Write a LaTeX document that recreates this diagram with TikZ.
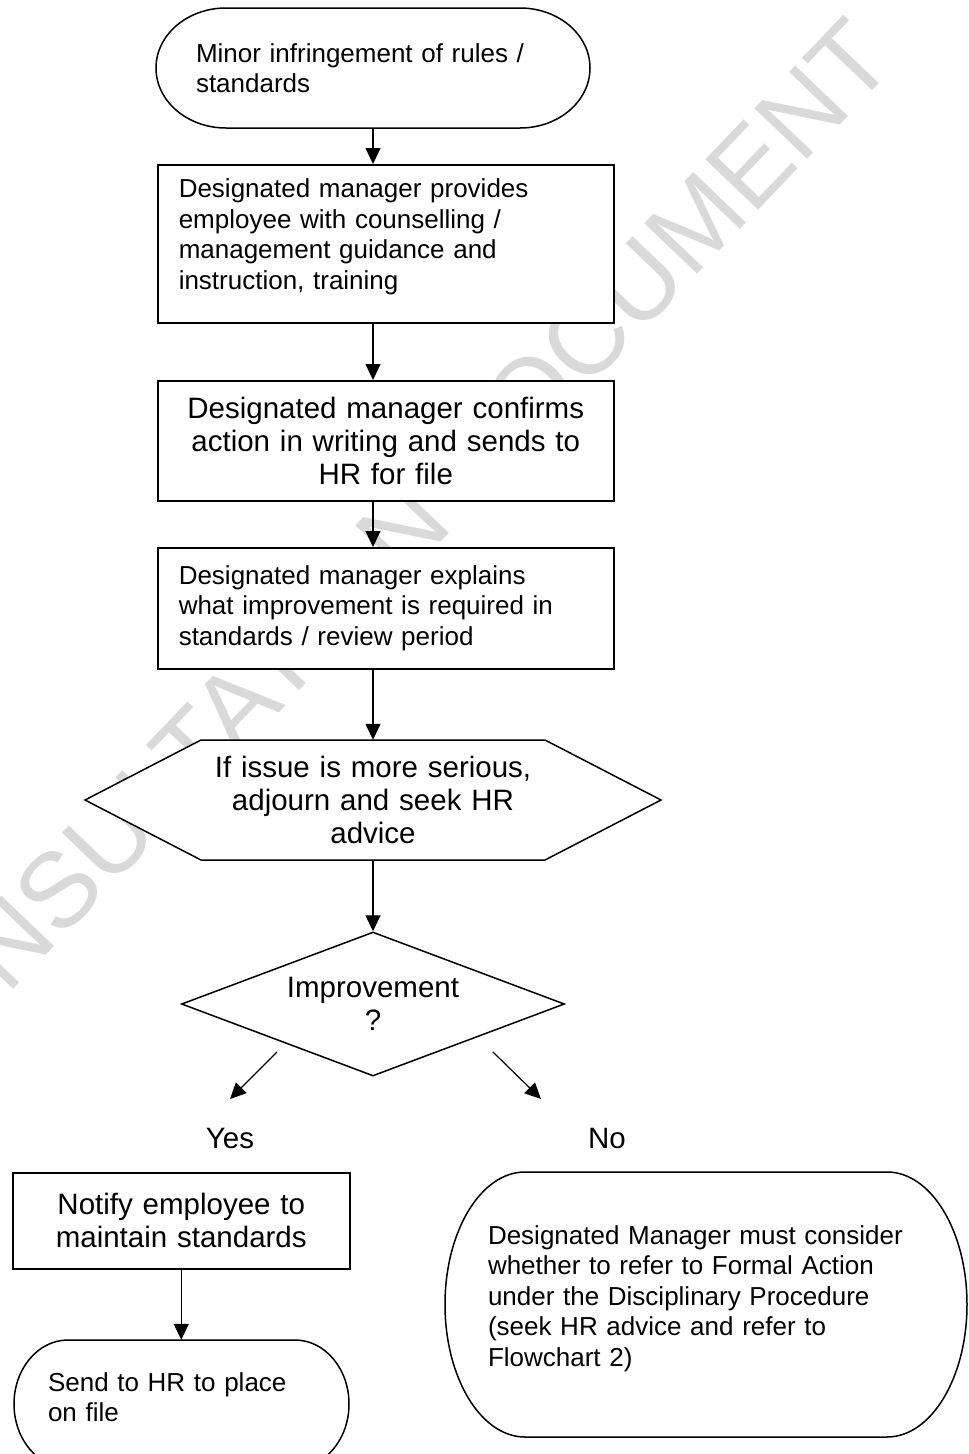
\documentclass[tikz,border=0pt]{standalone}
\usepackage{fontspec}
\setmainfont{Liberation Sans}
\usetikzlibrary{arrows.meta,shapes.geometric}
\newcommand\fsmall{\fontsize{26}{30.5}\selectfont}
\newcommand\fbig{\fontsize{29.5}{33}\selectfont}
% left, top, right, bottom, rx  (y grows downwards)
\newcommand\termoutline[5]{%
\draw[outline] ({#1+#5},#2) -- ({#3-#5},#2)
 .. controls ({#3-#5+0.5523*#5},#2) and (#3,{(#2+#4)/2-0.5523*(#4-#2)/2}) .. (#3,{(#2+#4)/2})
 .. controls (#3,{(#2+#4)/2+0.5523*(#4-#2)/2}) and ({#3-#5+0.5523*#5},#4) .. ({#3-#5},#4)
 -- ({#1+#5},#4)
 .. controls ({#1+#5-0.5523*#5},#4) and (#1,{(#2+#4)/2+0.5523*(#4-#2)/2}) .. (#1,{(#2+#4)/2})
 .. controls (#1,{(#2+#4)/2-0.5523*(#4-#2)/2}) and ({#1+#5-0.5523*#5},#2) .. cycle;}
\begin{document}
\begin{tikzpicture}[x=1pt,y=-1pt,
  outline/.style={draw=black,line width=1.5pt,fill=white,line join=miter},
  boxnode/.style={outline,rectangle,inner sep=0pt,anchor=north west},
  textonly/.style={draw=none,rectangle,inner sep=0pt},
  arr/.style={line width=1.2pt,-{Triangle[length=16pt,width=15pt]}},
  watermark/.style={text=black!15,inner sep=0pt,font=\fontsize{106}{106}\selectfont}]
\useasboundingbox (0,0) rectangle (969,1454);
\fill[white] (0,0) rectangle (969,1454);

% watermark
\node[watermark,rotate=46.3] (wm) at (372,562) {CONSULTATION DOCUMENT};

% outlines of the non-rectangular shapes
\termoutline{156}{8}{590}{128}{70}
\termoutline{14}{1340}{349}{1468}{54}
\termoutline{445}{1172}{967}{1437}{80}
\draw[outline] (85,800) -- (201,740) -- (545,740) -- (661,800) -- (545,860) -- (201,860) -- cycle;

% nodes
\node[textonly,minimum width=434pt,minimum height=120pt,text width=354pt,align=left,font=\fsmall]
  (t1) at (373,68) {Minor infringement of rules /\\standards};
\node[boxnode,minimum width=456pt,minimum height=158pt,text width=414pt,align=left,font=\fsmall]
  (b2) at (157,164) {Designated manager provides\\employee with counselling /\\management guidance and\\instruction, training\\[-11pt]\mbox{}};
\node[boxnode,minimum width=456pt,minimum height=120pt,text width=430pt,align=center,font=\fbig]
  (b3) at (157,380) {Designated manager confirms\\action in writing and sends to\\HR for file};
\node[boxnode,minimum width=456pt,minimum height=121pt,text width=414pt,align=left,font=\fsmall]
  (b4) at (157,547) {Designated manager explains\\what improvement is required in\\standards / review period};
\node[textonly,minimum width=576pt,minimum height=120pt,text width=400pt,align=center,font=\fbig]
  (hx) at (373,800) {If issue is more serious,\\adjourn and seek HR\\advice};
\node[outline,diamond,shape aspect=2.66,inner sep=0pt,minimum width=383pt,minimum height=144pt,align=center,font=\fbig]
  (dm) at (373,1004) {Improvement\\?};
\node[font=\fbig,inner sep=0pt] (yes) at (230,1138) {Yes};
\node[font=\fbig,inner sep=0pt] (no) at (607,1138) {No};
\node[boxnode,minimum width=337pt,minimum height=96pt,text width=320pt,align=center,font=\fbig]
  (nt) at (12,1172) {Notify employee to\\maintain standards};
\node[textonly,minimum width=335pt,minimum height=128pt,text width=267pt,align=left,font=\fsmall]
  (sd) at (181.5,1404) {Send to HR to place\\on file\\[-16.5pt]\mbox{}};
\node[textonly,minimum width=522pt,minimum height=265pt,text width=436pt,align=left,font=\fsmall]
  (fa) at (706,1304.5) {Designated Manager must consider\\whether to refer to Formal Action\\under the Disciplinary Procedure\\(seek HR advice and refer to\\Flowchart 2)\\[-13pt]\mbox{}};

\coordinate (ys) at (277,1052);
\coordinate (ye) at (230,1099);
\coordinate (ns) at (493,1052);
\coordinate (ne) at (541,1099);

% connectors
\draw[arr] (t1.south) -- (t1.south |- b2.north);
\draw[arr] (b2.south -| t1.south) -- (b3.north -| t1.south);
\draw[arr] (b3.south -| t1.south) -- (b4.north -| t1.south);
\draw[arr] (b4.south -| t1.south) -- (hx.north);
\draw[arr] (hx.south) -- (dm.north);
\draw[arr] (ys) -- (ye);
\draw[arr] (ns) -- (ne);
\draw[arr] (nt.south) -- (nt.south |- sd.north);
\end{tikzpicture}
\end{document}
